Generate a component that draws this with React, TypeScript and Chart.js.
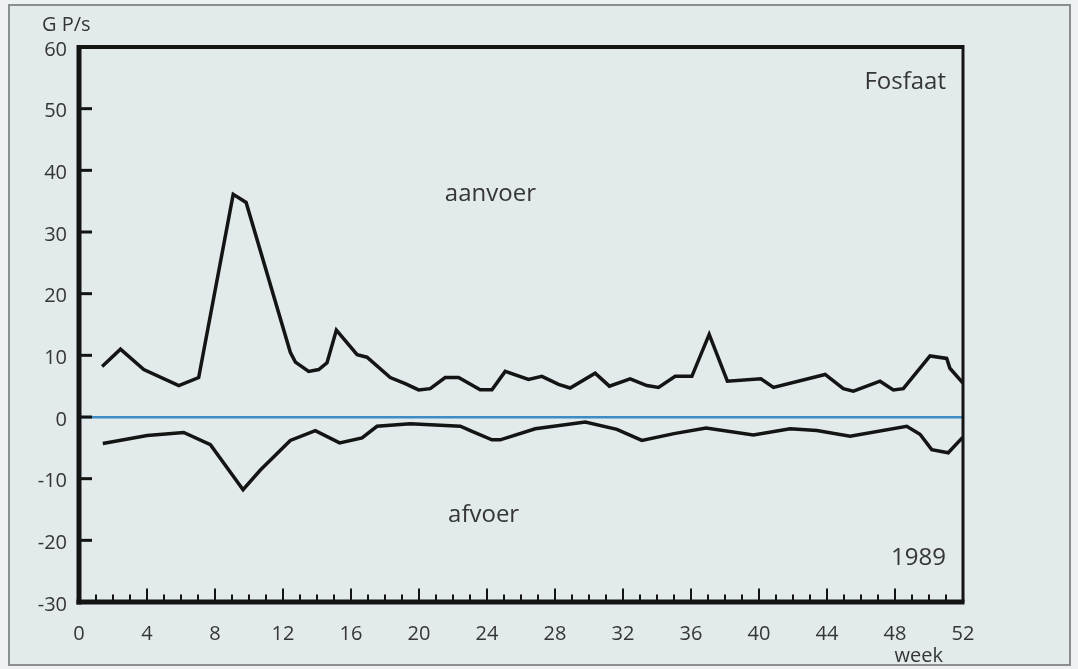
import { useEffect, useRef } from 'react';
import { Chart, registerables } from 'chart.js';

Chart.register(...registerables);

// Fosfaat, 1989: supply (aanvoer) and discharge (afvoer) in G P/s per week
const aanvoerWeek = [
  1.36, 2.44, 3.81, 5.87, 7.04, 9.07, 9.83, 12.43, 12.73, 13.51, 14.1, 14.59, 15.14, 16.36,
  16.94, 18.31, 19.19, 19.98, 20.66, 21.54, 22.33, 23.6, 24.29, 25.07, 26.44, 27.23, 28.21,
  28.89, 30.36, 31.2, 32.42, 33.4, 34.09, 35.07, 36.05, 37.07, 38.14, 40.11, 40.85, 43.89,
  44.96, 45.55, 47.12, 47.9, 48.49, 50.06, 51.04, 51.23, 52.0,
];
const aanvoer = [
  8.2, 11.0, 7.7, 5.1, 6.4, 36.1, 34.8, 10.5, 8.9, 7.4, 7.7, 8.8, 14.1, 10.1,
  9.7, 6.4, 5.4, 4.4, 4.6, 6.4, 6.4, 4.4, 4.4, 7.4, 6.1, 6.6, 5.3,
  4.7, 7.1, 5.0, 6.2, 5.1, 4.8, 6.6, 6.6, 13.4, 5.8, 6.2, 4.8, 6.9,
  4.6, 4.2, 5.8, 4.4, 4.6, 9.9, 9.5, 7.9, 5.5,
];

const afvoerWeek = [
  1.4, 4.01, 6.16, 7.73, 9.65, 10.67, 12.43, 13.9, 15.33, 16.65, 17.53, 19.49, 22.43, 23.02,
  24.29, 24.78, 26.84, 29.78, 31.64, 33.11, 35.0, 36.89, 39.67, 41.83, 43.4, 45.36, 48.69,
  49.47, 50.16, 51.13, 51.98,
];
const afvoer = [
  -4.3, -3.0, -2.5, -4.5, -11.8, -8.6, -3.8, -2.2, -4.2, -3.4, -1.5, -1.1, -1.5, -2.2,
  -3.7, -3.7, -1.9, -0.8, -2.0, -3.8, -2.7, -1.8, -2.9, -1.9, -2.2, -3.1, -1.5,
  -2.8, -5.3, -5.8, -3.3,
];

const yUnit = 'G P/s';
const xUnit = 'week';
const subject = 'Fosfaat';
const year = '1989';
const upperLabel = 'aanvoer';
const lowerLabel = 'afvoer';

const FONT = '"Open Sans", "Noto Sans", sans-serif';
const INK = '#141414';
const TEXT = '#353535';

const framePlugin = {
  id: 'frame',
  afterDatasetsDraw(chart: any) {
    const { ctx, chartArea } = chart;
    const { left, right, top, bottom } = chartArea;
    const xs = chart.scales.x;
    const ys = chart.scales.y;
    ctx.save();
    ctx.strokeStyle = INK;
    ctx.lineCap = 'butt';

    // week ticks along the bottom axis, pointing inward
    ctx.lineWidth = 2;
    for (let w = 1; w < 52; w++) {
      const px = xs.getPixelForValue(w);
      const len = w % 4 === 0 ? 11 : 5;
      ctx.beginPath();
      ctx.moveTo(px, bottom);
      ctx.lineTo(px, bottom - 2.5 - len);
      ctx.stroke();
    }
    // value ticks on the left axis, pointing inward
    ctx.lineWidth = 3;
    for (let v = -20; v <= 50; v += 10) {
      const py = ys.getPixelForValue(v);
      ctx.beginPath();
      ctx.moveTo(left, py);
      ctx.lineTo(left + 13, py);
      ctx.stroke();
    }

    // plot box
    ctx.lineWidth = 4;
    ctx.beginPath();
    ctx.moveTo(left, top);
    ctx.lineTo(right, top);
    ctx.stroke();
    ctx.lineWidth = 3;
    ctx.beginPath();
    ctx.moveTo(right, top - 2);
    ctx.lineTo(right, bottom);
    ctx.stroke();
    ctx.lineWidth = 5;
    ctx.beginPath();
    ctx.moveTo(left, top - 2);
    ctx.lineTo(left, bottom + 2.5);
    ctx.stroke();
    ctx.beginPath();
    ctx.moveTo(left - 2.5, bottom);
    ctx.lineTo(right + 1.5, bottom);
    ctx.stroke();
    ctx.restore();
  },
};

const textPlugin = {
  id: 'texts',
  afterDraw(chart: any) {
    const { ctx } = chart;
    const xs = chart.scales.x;
    const ys = chart.scales.y;
    ctx.save();
    ctx.fillStyle = TEXT;
    ctx.textBaseline = 'alphabetic';

    ctx.font = `20px ${FONT}`;
    ctx.textAlign = 'left';
    ctx.fillText(yUnit, 42, 31);
    ctx.textAlign = 'center';
    ctx.fillText(xUnit, xs.getPixelForValue(49.4), 662);

    ctx.font = `24px ${FONT}`;
    ctx.textAlign = 'right';
    ctx.fillText(subject, xs.getPixelForValue(51.0), ys.getPixelForValue(53.2));
    ctx.fillText(year, xs.getPixelForValue(51.0), ys.getPixelForValue(-24.0));
    ctx.textAlign = 'center';
    ctx.fillText(upperLabel, xs.getPixelForValue(24.2), ys.getPixelForValue(35.1));
    ctx.fillText(lowerLabel, xs.getPixelForValue(23.8), ys.getPixelForValue(-17.0));
    ctx.restore();
  },
};

export default function App() {
  const ref = useRef<HTMLCanvasElement>(null);

  useEffect(() => {
    const canvas = ref.current;
    if (!canvas) return;
    const chart = new Chart(canvas, {
      type: 'line',
      data: {
        datasets: [
          {
            label: upperLabel,
            data: aanvoerWeek.map((x, i) => ({ x, y: aanvoer[i] })),
            borderColor: INK,
            borderWidth: 3.5,
            borderJoinStyle: 'miter',
            pointRadius: 0,
            tension: 0,
            fill: false,
          },
          {
            label: lowerLabel,
            data: afvoerWeek.map((x, i) => ({ x, y: afvoer[i] })),
            borderColor: INK,
            borderWidth: 3.5,
            borderJoinStyle: 'miter',
            pointRadius: 0,
            tension: 0,
            fill: false,
          },
        ],
      },
      options: {
        responsive: false,
        animation: false,
        devicePixelRatio: 1,
        layout: { padding: { left: 8, top: 47, right: 115, bottom: 15 } },
        plugins: { legend: { display: false }, tooltip: { enabled: false } },
        scales: {
          x: {
            type: 'linear',
            min: 0,
            max: 52,
            afterFit: (s: any) => {
              s.height = 52;
            },
            border: { display: false },
            grid: { display: false, drawTicks: false },
            ticks: {
              stepSize: 4,
              padding: 20,
              autoSkip: false,
              maxRotation: 0,
              color: TEXT,
              font: { family: FONT, size: 20 },
            },
          },
          y: {
            type: 'linear',
            min: -30,
            max: 60,
            afterFit: (s: any) => {
              s.width = 71;
            },
            border: { display: false },
            grid: {
              drawTicks: false,
              lineWidth: 2.5,
              color: (c: any) => (c.tick && c.tick.value === 0 ? '#3d8cc4' : 'rgba(0,0,0,0)'),
            },
            ticks: {
              stepSize: 10,
              padding: 12,
              labelOffset: 3,
              color: TEXT,
              font: { family: FONT, size: 20 },
            },
          },
        },
      },
      plugins: [framePlugin, textPlugin],
    });
    return () => chart.destroy();
  }, []);

  return (
    <div
      style={{
        position: 'fixed',
        left: 0,
        top: 0,
        width: 1078,
        height: 669,
        background: '#edf1f1',
        overflow: 'hidden',
      }}
    >
      <div
        style={{
          position: 'absolute',
          left: 8,
          top: 4,
          width: 1063,
          height: 662,
          border: '2px solid #8a8e8e',
          background: '#e2eaec',
          boxSizing: 'border-box',
        }}
      />
      <canvas
        ref={ref}
        width={1078}
        height={669}
        style={{ position: 'absolute', left: 0, top: 0, width: 1078, height: 669 }}
      />
    </div>
  );
}
